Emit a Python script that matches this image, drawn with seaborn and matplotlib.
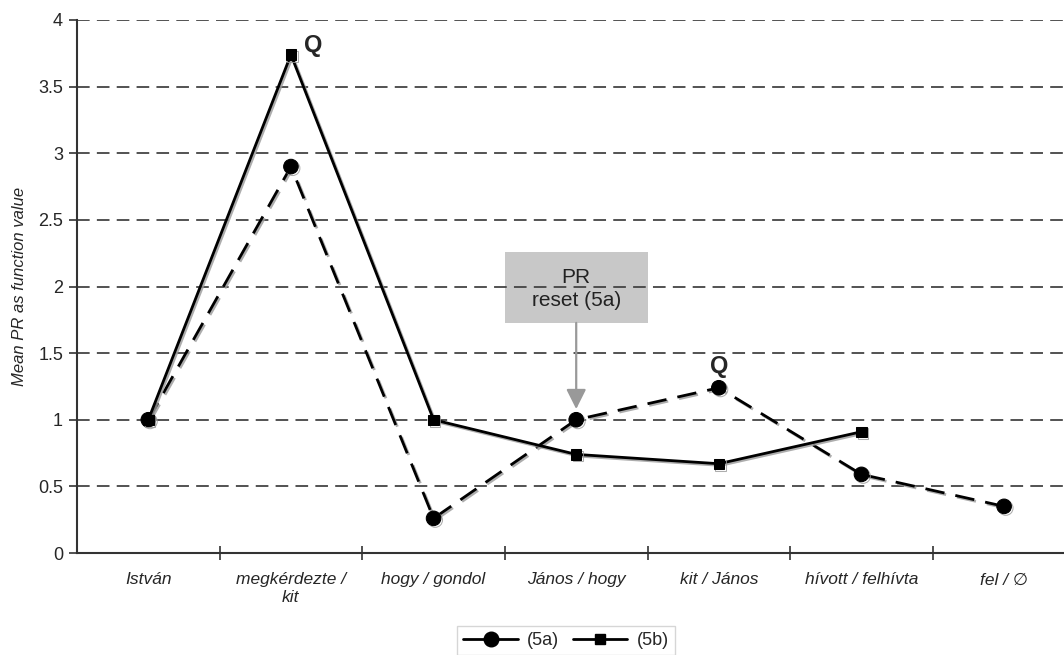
import numpy as np
import pandas as pd
import matplotlib
matplotlib.use("Agg")
import matplotlib.pyplot as plt
import matplotlib.patheffects as pe
from matplotlib.lines import Line2D
from matplotlib.patches import Rectangle
import seaborn as sns

categories = ["István", "megkérdezte /\nkit", "hogy / gondol", "János / hogy",
              "kit / János", "hívott / felhívta", "fel / ∅"]
series_5a = [1.0, 2.9, 0.26, 1.0, 1.24, 0.59, 0.35]
series_5b = [1.0, 3.74, 1.0, 0.74, 0.67, 0.91, np.nan]
y_ticks = [0, 0.5, 1, 1.5, 2, 2.5, 3, 3.5, 4]
y_tick_labels = ["0", "0.5", "1", "1.5", "2", "2.5", "3", "3.5", "4"]

sns.set_theme(style="white")
plt.rcParams['font.family'] = ['Liberation Sans', 'DejaVu Sans']

fig = plt.figure(figsize=(10.64, 6.55), dpi=100)
ax = fig.add_axes([77/1064, 102/655, 1 - 77/1064, 533/655])

pos = np.arange(len(categories))
df = pd.DataFrame({"pos": pos, "a": series_5a, "b": series_5b})

shadow = [pe.SimpleLineShadow(offset=(1.2, -1.2), shadow_color="0.6", alpha=0.8), pe.Normal()]

# grid lines
for yv in y_ticks[1:]:
    ax.axhline(yv, color="#444444", lw=1.3, dashes=(7, 4), zorder=1)

sns.lineplot(data=df, x="pos", y="a", ax=ax, color="black", lw=2.0,
             marker="o", markersize=10.5, markeredgecolor="black",
             dashes=False, zorder=3)
la = ax.lines[-1]
la.set_dashes((7, 4))
la.set_path_effects(shadow)

sns.lineplot(data=df.dropna(), x="pos", y="b", ax=ax, color="black", lw=2.0,
             marker="s", markersize=7.5, markeredgecolor="black", zorder=4)
ax.lines[-1].set_path_effects(shadow)

ax.set_xlim(-0.5, 6.42)
ax.set_ylim(0, 4)
ax.set_yticks(y_ticks)
ax.set_yticklabels(y_tick_labels, fontsize=13)
ax.set_xticks(pos)
ax.set_xticklabels(categories, fontsize=12.5, style="italic")
ax.set_xticks(np.arange(0.5, 6.5, 1), minor=True)
ax.tick_params(axis="x", which="both", bottom=True)
ax.tick_params(axis="y", which="both", left=True)
ax.tick_params(axis="x", which="major", length=0, pad=14)
ax.tick_params(axis="x", which="minor", length=10, direction="inout", width=1.2, color="#333333")
ax.tick_params(axis="y", which="major", length=6, direction="out", width=1.2, color="#333333", pad=4)
ax.set_xlabel("")
ax.set_ylabel("Mean PR as function value", fontsize=12, style="italic", labelpad=8)

for s in ["top", "right"]:
    ax.spines[s].set_visible(False)
for s in ["left", "bottom"]:
    ax.spines[s].set_color("#333333")
    ax.spines[s].set_linewidth(1.5)

# Q labels
ax.text(1 + 0.09, 3.74 - 0.02, "Q", fontsize=17, fontweight="bold", ha="left", va="bottom")
ax.text(4, 1.24 + 0.07, "Q", fontsize=17, fontweight="bold", ha="center", va="bottom")

# annotation box + arrow (box sits under the grid lines)
box_x0, box_x1, box_y0, box_y1 = 2.5, 3.5, 1.727, 2.26
ax.add_patch(Rectangle((box_x0, box_y0), box_x1 - box_x0, box_y1 - box_y0,
                       fc="#c8c8c8", ec="none", zorder=0.5))
ax.text(3, (box_y0 + box_y1) / 2 - 0.01, "PR\nreset (5a)", ha="center", va="center",
        fontsize=15, color="#222222", linespacing=1.25, zorder=6)
ax.annotate("", xy=(3, 1.08), xytext=(3, box_y0),
            arrowprops=dict(arrowstyle="-|>,head_length=1.0,head_width=0.5",
                            color="#999999", lw=1.6, shrinkA=0, shrinkB=0), zorder=6)

handles = [Line2D([], [], color="black", lw=2, marker="o", markersize=10.5),
           Line2D([], [], color="black", lw=2, marker="s", markersize=7.5)]
leg = fig.legend(handles, ["(5a)", "(5b)"], ncol=2, loc="lower center",
                 bbox_to_anchor=(566/1064, -0.014), frameon=True, fontsize=13,
                 handlelength=3.0, columnspacing=0.8, handletextpad=0.5,
                 borderpad=0.35, fancybox=False)
leg.get_frame().set_edgecolor("#cccccc")

fig.savefig("out.png", dpi=100)
